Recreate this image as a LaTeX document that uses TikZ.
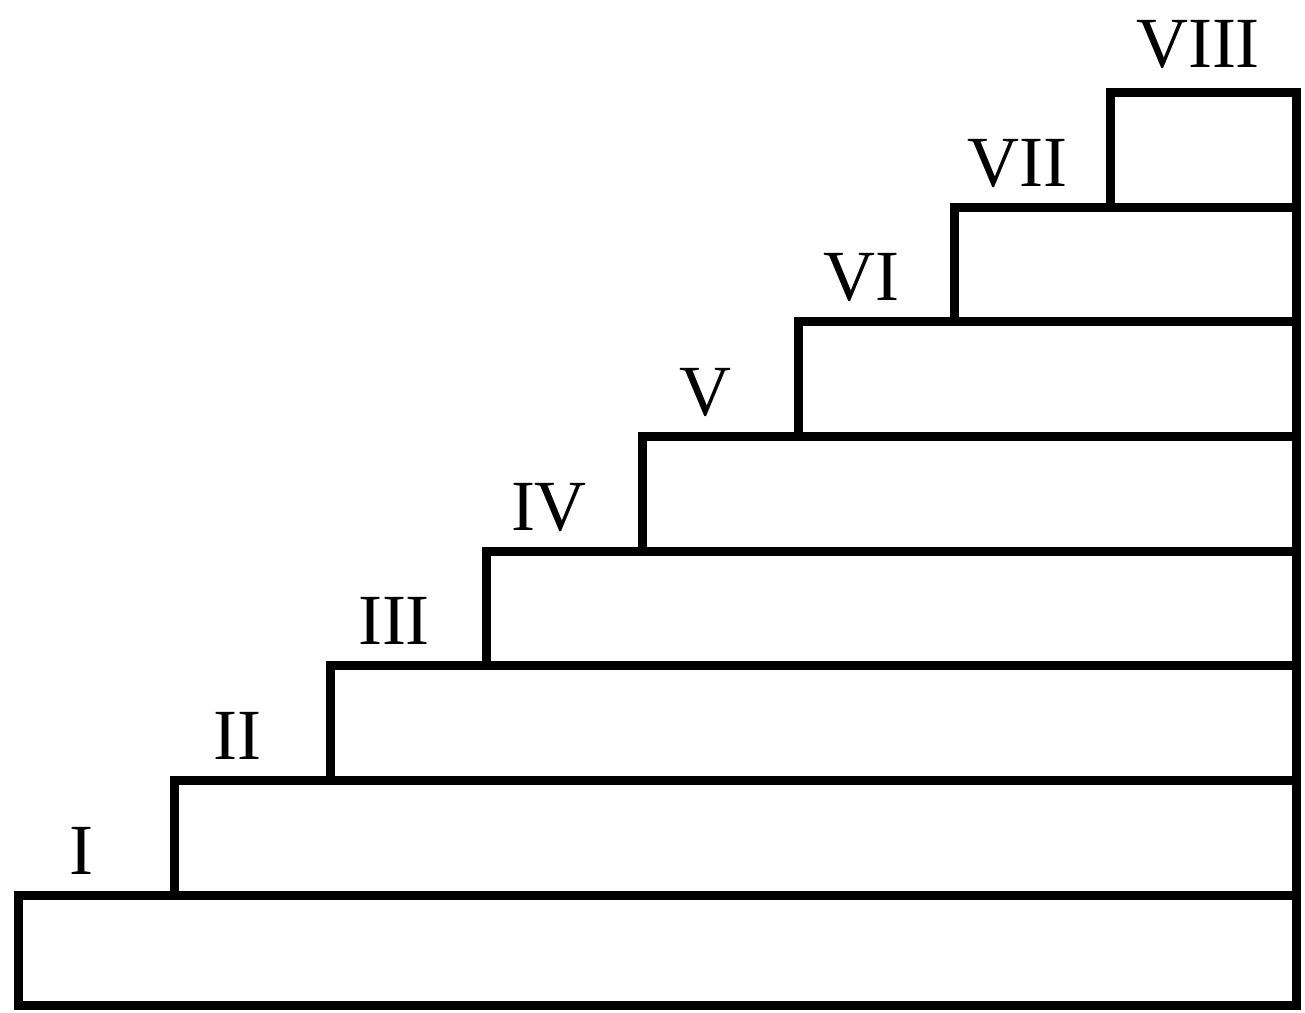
\documentclass[tikz,border=0pt]{standalone}
\usepackage{fontspec}
\setmainfont{Liberation Serif}

\begin{document}
\begin{tikzpicture}[x=0.5pt,y=0.5pt]
\tikzset{stepbox/.style={line width=4.5pt,draw=black},
         steplabel/.style={anchor=base,inner sep=0pt,font=\fontsize{36}{36}\selectfont}}
\useasboundingbox (0,0) rectangle (1305,1012);

% the steps, from the bottom up
\draw[stepbox] (18,7)     rectangle (1296,117);
\draw[stepbox] (174,117)  rectangle (1296,231.6);
\draw[stepbox] (330,231.6) rectangle (1296,346.2);
\draw[stepbox] (486,346.2) rectangle (1296,460.8);
\draw[stepbox] (642,460.8) rectangle (1296,575.4);
\draw[stepbox] (798,575.4) rectangle (1296,690);
\draw[stepbox] (954,690)  rectangle (1296,804.6);
\draw[stepbox] (1110,804.6) rectangle (1296,919.2);

% labels
\node[steplabel] (I)    at (81,138)    {I};
\node[steplabel] (II)   at (237,252.6) {II};
\node[steplabel] (III)  at (394,367.2) {III};
\node[steplabel] (IV)   at (549,481.8) {IV};
\node[steplabel] (V)    at (705,596.4) {V};
\node[steplabel] (VI)   at (861,711)   {VI};
\node[steplabel] (VII)  at (1017,825.6) {VII};
\node[steplabel] (VIII) at (1198,944)  {VIII};

\end{tikzpicture}
\end{document}
